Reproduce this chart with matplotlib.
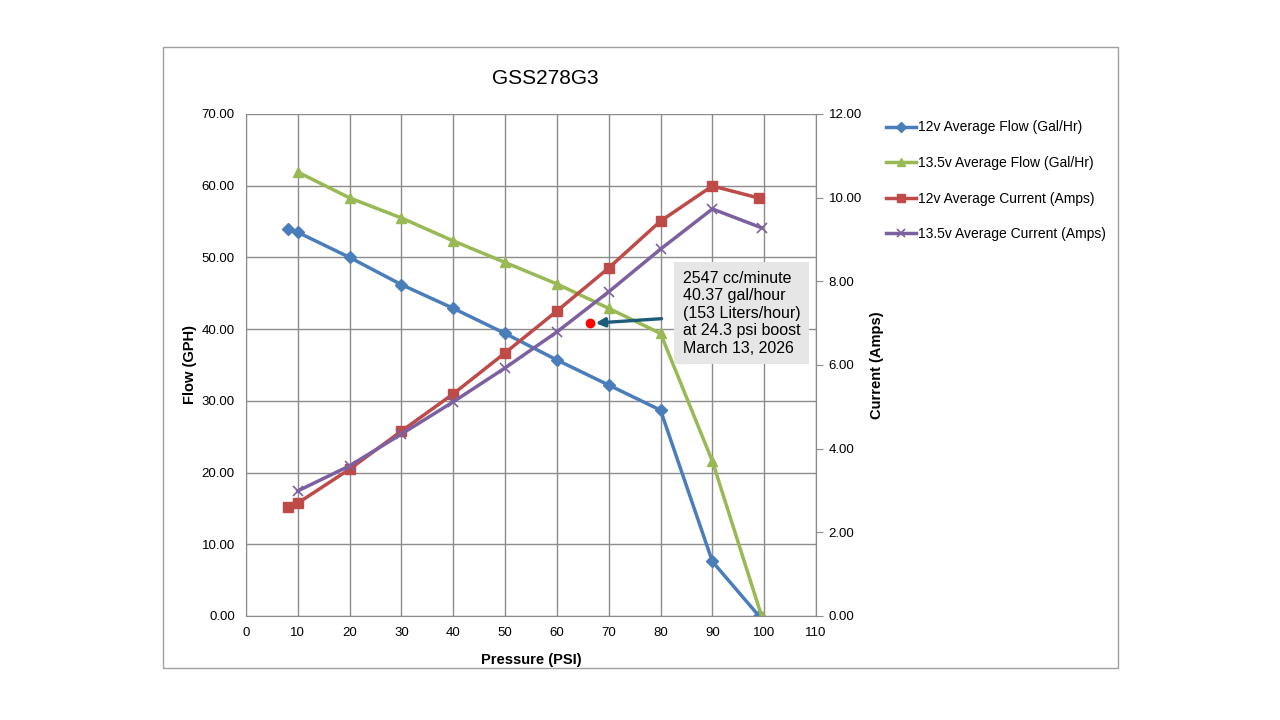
"""GSS278G3 fuel pump flow / current chart"""

import matplotlib
matplotlib.use("Agg")
import matplotlib.pyplot as plt
from matplotlib.patches import Rectangle

# Data
psi_12v = [8.2, 10, 20, 30, 40, 50, 60, 70, 80, 90, 99]
flow_12v = [54.0, 53.5, 50.0, 46.2, 42.9, 39.4, 35.7, 32.2, 28.7, 7.6, 0.0]
amps_12v = [2.60, 2.70, 3.51, 4.42, 5.31, 6.29, 7.29, 8.32, 9.44, 10.28, 9.99]

psi_135v = [10, 20, 30, 40, 50, 60, 70, 80, 90, 99.5]
flow_135v = [61.9, 58.3, 55.5, 52.3, 49.3, 46.3, 42.9, 39.4, 21.6, 0.0]
amps_135v = [2.99, 3.59, 4.35, 5.12, 5.93, 6.79, 7.75, 8.77, 9.73, 9.28]

test_psi = 66.4
test_flow = 40.8
note = "2547 cc/minute\n40.37 gal/hour\n(153 Liters/hour)\nat 24.3 psi boost\nMarch 13, 2026"

x_ticks = list(range(0, 111, 10))
left_ticks = list(range(0, 71, 10))
right_ticks = list(range(0, 13, 2))

# Colours
c_blue = "#4A7EBB"
c_green = "#98B954"
c_red = "#BE4B48"
c_purple = "#7D60A0"
c_grid = "#8C8C8C"

plt.rcParams['font.family'] = ['Liberation Sans', 'DejaVu Sans']

fig = plt.figure(figsize=(12.8, 7.2), dpi=100)
fig.patches.append(Rectangle((163 / 1280, 1 - 668 / 720), (1118 - 163) / 1280, (668 - 47) / 720,
                             transform=fig.transFigure, fill=False, edgecolor="#A0A0A0", lw=1))

ax = fig.add_axes([246 / 1280, 1 - 616 / 720, (816 - 246) / 1280, (616 - 114) / 720])
ax2 = ax.twinx()

ax.plot(psi_12v, flow_12v, color=c_blue, lw=2.5, marker="D", ms=6, label="12v Average Flow (Gal/Hr)")
ax.plot(psi_135v, flow_135v, color=c_green, lw=2.5, marker="^", ms=7, label="13.5v Average Flow (Gal/Hr)")
ax2.plot(psi_12v, amps_12v, color=c_red, lw=2.5, marker="s", ms=7, label="12v Average Current (Amps)")
ax2.plot(psi_135v, amps_135v, color=c_purple, lw=2.5, marker="x", ms=7, mew=1.2,
         label="13.5v Average Current (Amps)")

# test point and callout
ax.plot([test_psi], [test_flow], "o", color="#FF0000", ms=6, zorder=5)
ax.annotate(note, xy=(test_psi, test_flow), xytext=(84.3, 42.2), xycoords="data", textcoords="data",
            fontsize=11.5, ha="left", va="center", linespacing=1.2,
            bbox=dict(boxstyle="square,pad=0.55", fc="#E6E6E6", ec="none"),
            arrowprops=dict(arrowstyle="-|>", color="#1F5C7A", lw=2.4, mutation_scale=13,
                            shrinkA=9, shrinkB=4),
            zorder=6)

ax.set_xlim(0, 110)
ax.set_ylim(0, 70)
ax2.set_ylim(0, 12)
ax.set_xticks(x_ticks)
ax.set_yticks(left_ticks)
ax2.set_yticks(right_ticks)
ax.set_yticklabels([f"{v:.2f}" for v in left_ticks])
ax2.set_yticklabels([f"{v:.2f}" for v in right_ticks])
ax.tick_params(axis="both", length=0, labelsize=9.5, pad=8)
ax2.tick_params(axis="y", length=5, color=c_grid, labelsize=9.5, pad=4)

ax.grid(True, color=c_grid, lw=1)
ax.set_axisbelow(True)
for a in (ax, ax2):
    for s in a.spines.values():
        s.set_color(c_grid)
    a.spines["top"].set_visible(False)
ax2.spines["left"].set_visible(False)
ax2.spines["bottom"].set_visible(False)

ax.set_xlabel("Pressure (PSI)", fontsize=10.5, fontweight="bold", labelpad=10)
ax.set_ylabel("Flow (GPH)", fontsize=10.5, fontweight="bold", labelpad=3)
ax2.set_ylabel("Current (Amps)", fontsize=10.5, fontweight="bold", labelpad=6)

fig.text(545 / 1280, 1 - 78 / 720, "GSS278G3", fontsize=15, ha="center", va="center")

handles = ax.get_lines()[:2] + ax2.get_lines()[:2]
fig.legend(handles, [h.get_label() for h in handles], loc="upper left",
           bbox_to_anchor=(873 / 1280, 1 - 108 / 720), frameon=False, fontsize=10,
           labelspacing=1.55, handlelength=2.2, handletextpad=0.15, markerscale=0.8)

fig.savefig("out.png", dpi=100)
